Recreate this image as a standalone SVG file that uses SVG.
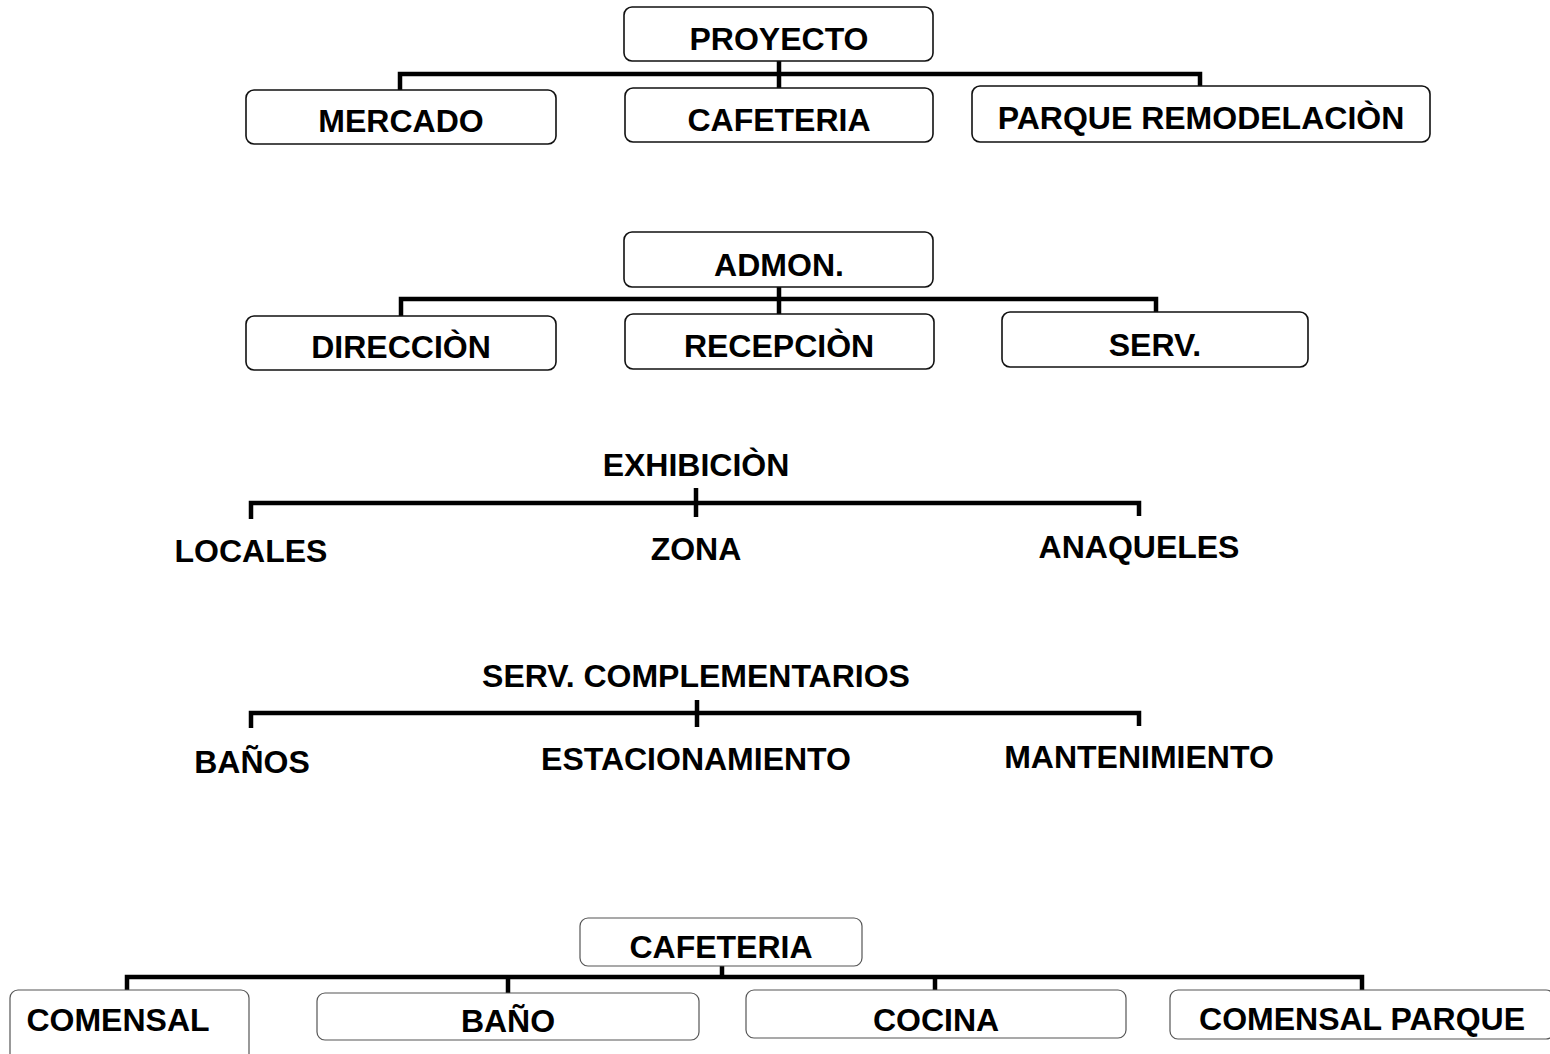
<svg xmlns="http://www.w3.org/2000/svg" width="1550" height="1054" viewBox="0 0 1550 1054">
<style>
.bg{fill:#ffffff}
.box{fill:#ffffff;stroke:#111;stroke-width:1.6}
.box2{fill:#ffffff;stroke:#555;stroke-width:1.2}
.t{font-family:"Liberation Sans",Arial,Helvetica,sans-serif;font-weight:bold;font-size:32px;fill:#000;text-anchor:middle}
.c{fill:none;stroke:#000;stroke-width:4.5}
</style>
<rect class="bg" x="0" y="0" width="1550" height="1054"/>
<g id="connectors">
<path class="c" d="M779 61V88M400 90V74H1200V86"/>
<path class="c" d="M779 287V314M401 316V299H1156V312"/>
<path class="c" d="M251 519V503H1139V516M696 488V517"/>
<path class="c" d="M251 728V713H1139V726M697 700V727"/>
<path class="c" d="M722 966V977M127 990V977H1362V990M508 977V993M935 977V990"/>
</g>
<g id="proyecto"><rect class="box" x="624" y="7" width="309" height="54" rx="8"/><text class="t" x="779" y="50">PROYECTO</text></g>
<g id="mercado"><rect class="box" x="246" y="90" width="310" height="54" rx="8"/><text class="t" x="401" y="132">MERCADO</text></g>
<g id="cafeteria1"><rect class="box" x="625" y="88" width="308" height="54" rx="8"/><text class="t" x="779" y="131">CAFETERIA</text></g>
<g id="parque"><rect class="box" x="972" y="86" width="458" height="56" rx="8"/><text class="t" x="1201" y="129">PARQUE REMODELACIÒN</text></g>
<g id="admon"><rect class="box" x="624" y="232" width="309" height="55" rx="8"/><text class="t" x="779" y="276">ADMON.</text></g>
<g id="direccion"><rect class="box" x="246" y="316" width="310" height="54" rx="8"/><text class="t" x="401" y="358">DIRECCIÒN</text></g>
<g id="recepcion"><rect class="box" x="625" y="314" width="309" height="55" rx="8"/><text class="t" x="779" y="357">RECEPCIÒN</text></g>
<g id="serv"><rect class="box" x="1002" y="312" width="306" height="55" rx="8"/><text class="t" x="1155" y="356">SERV.</text></g>
<g id="exhibicion"><text class="t" x="696" y="476">EXHIBICIÒN</text></g>
<g id="locales"><text class="t" x="251" y="562">LOCALES</text></g>
<g id="zona"><text class="t" x="696" y="560">ZONA</text></g>
<g id="anaqueles"><text class="t" x="1139" y="558">ANAQUELES</text></g>
<g id="servcomp"><text class="t" x="696" y="687">SERV. COMPLEMENTARIOS</text></g>
<g id="banos"><text class="t" x="252" y="773">BAÑOS</text></g>
<g id="estacionamiento"><text class="t" x="696" y="770">ESTACIONAMIENTO</text></g>
<g id="mantenimiento"><text class="t" x="1139" y="768">MANTENIMIENTO</text></g>
<g id="cafeteria2"><rect class="box2" x="580" y="918" width="282" height="48" rx="8"/><text class="t" x="721" y="958">CAFETERIA</text></g>
<g id="comensal"><rect class="box2" x="10" y="990" width="239" height="80" rx="8"/><text class="t" x="118" y="1031">COMENSAL</text></g>
<g id="bano"><rect class="box2" x="317" y="993" width="382" height="47" rx="8"/><text class="t" x="508" y="1032">BAÑO</text></g>
<g id="cocina"><rect class="box2" x="746" y="990" width="380" height="48" rx="8"/><text class="t" x="936" y="1031">COCINA</text></g>
<g id="comensalparque"><rect class="box2" x="1170" y="990" width="384" height="49" rx="8"/><text class="t" x="1362" y="1030">COMENSAL PARQUE</text></g>
</svg>
